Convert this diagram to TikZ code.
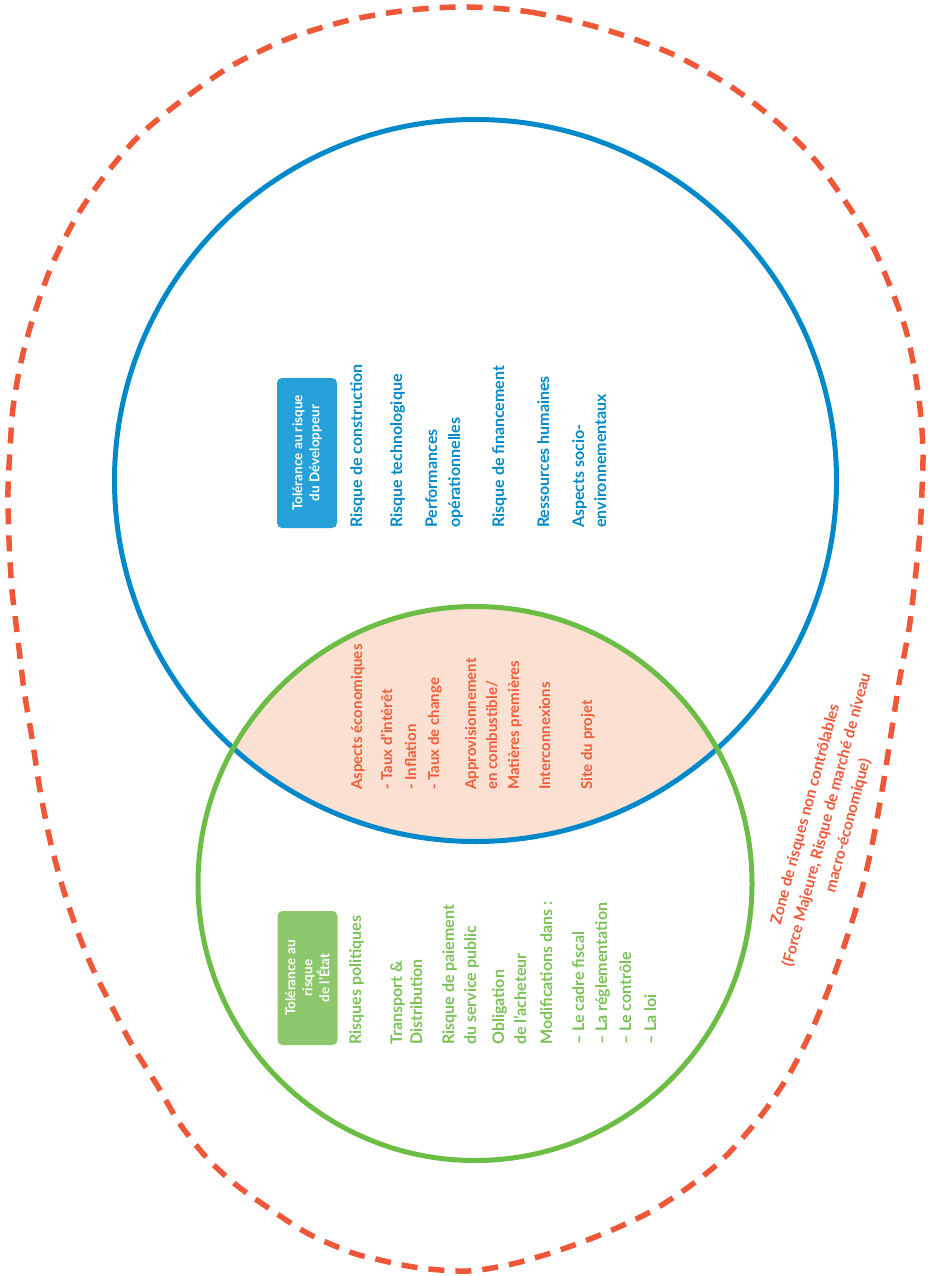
\documentclass[tikz,border=0pt]{standalone}
\usepackage{fontspec}
\setmainfont{Lato}
\definecolor{devblue}{RGB}{0,137,202}
\definecolor{devbadge}{RGB}{38,160,216}
\definecolor{statgreen}{RGB}{108,189,69}
\definecolor{stattext}{RGB}{122,193,86}
\definecolor{statbadge}{RGB}{141,199,108}
\definecolor{sharedtext}{RGB}{238,92,58}
\definecolor{sharedfill}{RGB}{252,225,211}
\definecolor{zonered}{RGB}{238,88,56}
\tikzset{
  item/.style={rotate=90, anchor=base west, inner sep=0pt,
    font=\fontsize{16}{22}\selectfont\bfseries},
  devitem/.style={item, text=devblue},
  shareditem/.style={item, text=sharedtext, font=\fontsize{15}{21}\selectfont\bfseries},
  statitem/.style={item, text=stattext},
  badge/.style={rotate=90, rounded corners=5pt, align=center, text=white,
    inner sep=0pt, minimum height=60pt,
    font=\fontsize{13.5}{17}\selectfont\bfseries},
  ring/.style={line width=5pt},
  zoneline/.style={draw=zonered, line width=5.5pt, dash pattern=on 16pt off 11pt}
}
\begin{document}
\begin{tikzpicture}[x=1pt,y=-1pt]
\useasboundingbox (0,0) rectangle (927,1276);

% shared zone of the two tolerance circles
\begin{scope}
  \clip (475.5,480.5) circle[radius=361];
  \fill[sharedfill] (475,883.5) circle[radius=277];
\end{scope}

% tolerance circles
\draw[ring, devblue] (475.5,480.5) circle[radius=361];
\draw[ring, statgreen] (475,883.5) circle[radius=277];

% outer zone of uncontrollable risks
\draw[zoneline] plot[smooth cycle, tension=0.5] coordinates {
  (468,7) (530,12) (600,28) (670,53) (730,86) (777,122) (815,160)
  (847,204) (872,245) (890,286) (905,327) (914,367) (920,408)
  (923,449) (922,490) (920,531) (915,580) (909,629) (900,677)
  (892,728) (884,779) (875,830) (864,881) (850,928) (834,975)
  (814,1025) (790,1073) (760,1117) (724,1158) (690,1186) (650,1212)
  (605,1233) (557,1251) (512,1264) (468,1271) (420,1268) (380,1260)
  (350,1252) (307,1233) (267,1207) (235,1184) (207,1158) (180,1124)
  (157,1085) (132,1045) (110,1003) (92,967) (77,930) (62,885) (50,840)
  (40,790) (32,738) (24,690) (18,640) (12,590) (9,540) (8,490)
  (10,450) (13,408) (21,362) (33,318) (52,265) (77,216) (106,174)
  (140,135) (185,98) (233,65) (290,38) (350,20) (410,10)};

% developer
\node[badge, fill=devbadge, minimum width=150pt] (devbadge) at (307,453)
  {Tolérance au risque\\du Développeur};
\node[devitem] (d1) at (362,528) {Risque de construction};
\node[devitem] (d2) at (402,528) {Risque technologique};
\node[devitem] (d3a) at (437,528) {Performances};
\node[devitem] (d3b) at (460,528) {opérationnelles};
\node[devitem] (d4) at (504,528) {Risque de financement};
\node[devitem] (d5) at (549,528) {Ressources humaines};
\node[devitem] (d6a) at (584,528) {Aspects socio-};
\node[devitem] (d6b) at (606,528) {environnementaux};

% shared risks
\node[shareditem] (s1) at (362,790) {Aspects économiques};
\node[shareditem] (s2) at (392,790) {- Taux d’intérêt};
\node[shareditem] (s3) at (416,790) {- Inflation};
\node[shareditem] (s4) at (439,790) {- Taux de change};
\node[shareditem] (s5a) at (476,790) {Approvisionnement};
\node[shareditem] (s5b) at (497,790) {en combustible/};
\node[shareditem] (s5c) at (519,790) {Matières premières};
\node[shareditem] (s6) at (550,790) {Interconnexions};
\node[shareditem] (s7) at (592,790) {Site du projet};

% state
\node[badge, fill=statbadge, minimum width=134pt] (statbadge) at (307.5,978)
  {Tolérance au\\risque\\de l'État};
\node[statitem] (g1) at (361,1045) {Risques politiques};
\node[statitem] (g2a) at (402,1045) {Transport \&};
\node[statitem] (g2b) at (422,1045) {Distribution};
\node[statitem] (g3a) at (454,1045) {Risque de paiement};
\node[statitem] (g3b) at (476,1045) {du service public};
\node[statitem] (g4a) at (504,1045) {Obligation};
\node[statitem] (g4b) at (526,1045) {de l'acheteur};
\node[statitem] (g5) at (552,1045) {Modifications dans :};
\node[statitem] (g6) at (584,1045) {– Le cadre fiscal};
\node[statitem] (g7) at (607,1045) {– La réglementation};
\node[statitem] (g8) at (631,1045) {– Le contrôle};
\node[statitem] (g9) at (656,1045) {– La loi};

% zone label
\node[rotate=75, align=center, text=zonered, inner sep=0pt,
  font=\fontsize{15.5}{22}\selectfont\bfseries] (zone) at (827,820)
  {Zone de risques non contrôlables\\(Force Majeure, Risque de marché de niveau\\macro-économique)};
\end{tikzpicture}
\end{document}
